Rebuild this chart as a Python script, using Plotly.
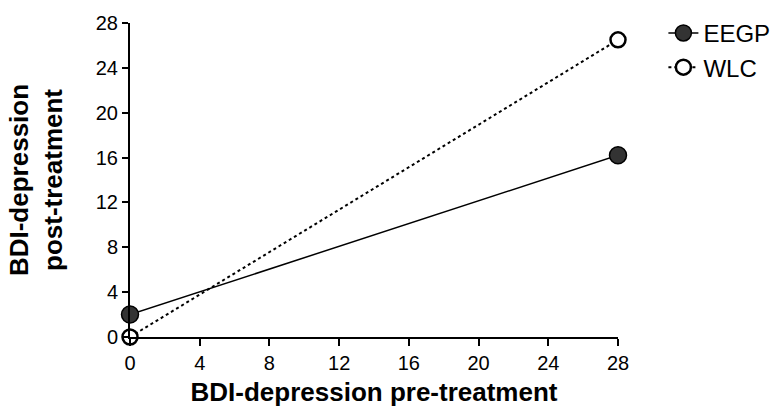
import plotly.graph_objects as go

pre = [0, 28]
eegp = [2.0, 16.2]
wlc = [0.0, 26.5]
ticks = [0, 4, 8, 12, 16, 20, 24, 28]

fig = go.Figure()
fig.add_trace(go.Scatter(x=pre, y=wlc, name="WLC", mode="lines+markers", legendgroup="b",
                         line=dict(color="black", width=2, dash="3px,3px"),
                         marker=dict(size=15, color="white", line=dict(color="black", width=2.5)),
                         cliponaxis=False))
fig.add_trace(go.Scatter(x=pre, y=eegp, name="EEGP", mode="lines+markers", legendgroup="a",
                         line=dict(color="black", width=1.5),
                         marker=dict(size=17, color="#333", line=dict(color="black", width=1.5)),
                         cliponaxis=False))

font = "Liberation Sans, Arial, sans-serif"
fig.update_layout(
    width=775, height=417,
    margin=dict(l=130, r=157, t=18, b=80),
    plot_bgcolor="white", paper_bgcolor="white",
    font=dict(family=font, size=20, color="black"),
    showlegend=True,
    legend=dict(xref="container", yref="container", x=0.856, y=0.974,
                xanchor="left", yanchor="top", traceorder="reversed",
                font=dict(size=24), tracegroupgap=16, bgcolor="rgba(0,0,0,0)"),
    xaxis=dict(range=[0, 28], tickvals=ticks, showgrid=False, zeroline=False,
               showline=True, linecolor="black", linewidth=2, ticks="outside",
               ticklen=7, tickwidth=1.5, tickcolor="black",
               title=dict(text="<b>BDI-depression pre-treatment</b>", font=dict(size=26), standoff=10)),
    yaxis=dict(range=[0, 28], tickvals=ticks, showgrid=False, zeroline=False,
               showline=True, linecolor="black", linewidth=2, ticks="outside",
               ticklen=6, tickwidth=1.5, tickcolor="black",
               title=dict(text="<b>BDI-depression<br>post-treatment</b>", font=dict(size=26), standoff=26)),
)
fig.write_html("out.html")
